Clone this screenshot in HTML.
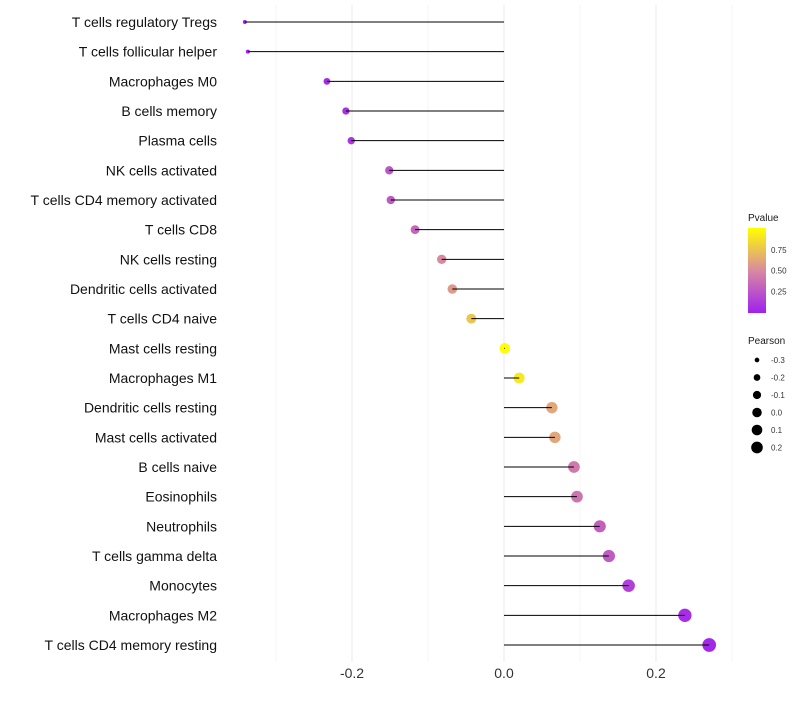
<!DOCTYPE html>
<html><head><meta charset="utf-8"><style>
body{margin:0;background:#fff;font-family:"Liberation Sans",sans-serif}
</style></head><body>
<svg id="chart" width="800" height="700" xmlns="http://www.w3.org/2000/svg" font-family="Liberation Sans, sans-serif">
<defs><linearGradient id="pg" x1="0" y1="1" x2="0" y2="0">
<stop offset="0" stop-color="#a020f0"/><stop offset="0.5" stop-color="#d88aa0"/><stop offset="1" stop-color="#ffff00"/></linearGradient></defs>
<g id="grid"></g>
<g id="marks"></g>
<g id="legend"></g>
</svg>
<script>
const categories=["T cells regulatory  Tregs","T cells follicular helper","Macrophages M0","B cells memory","Plasma cells","NK cells activated","T cells CD4 memory activated","T cells CD8","NK cells resting","Dendritic cells activated","T cells CD4 naive","Mast cells resting","Macrophages M1","Dendritic cells resting","Mast cells activated","B cells naive","Eosinophils","Neutrophils","T cells gamma delta","Monocytes","Macrophages M2","T cells CD4 memory resting"];
const pearson=[-0.341,-0.337,-0.233,-0.208,-0.201,-0.151,-0.149,-0.117,-0.082,-0.068,-0.043,0.001,0.020,0.063,0.067,0.092,0.096,0.126,0.138,0.164,0.238,0.270];
const pvalues=[0.01,0.02,0.05,0.08,0.1,0.25,0.27,0.33,0.5,0.57,0.75,0.99,0.9,0.62,0.62,0.42,0.4,0.3,0.28,0.15,0.06,0.03];
const xTicks=[-0.2,0.0,0.2];
const xMinor=[-0.3,-0.1,0.1,0.3];
const colorTicks=[0.25,0.5,0.75];
const sizeLegend=[-0.3,-0.2,-0.1,0.0,0.1,0.2];
const NS="http://www.w3.org/2000/svg";
const X=v=>504+v*760;
const Y=i=>22+i*(623/21);
const R=v=>Math.sqrt(4+70*Math.max(0,v+0.34));
function lerp(a,b,t){return a.map((x,k)=>Math.round(x+(b[k]-x)*t));}
function col(p){const s=[[160,32,240],[216,138,160],[255,255,0]];const c=p<0.5?lerp(s[0],s[1],p/0.5):lerp(s[1],s[2],(p-0.5)/0.5);return `rgb(${c})`;}
function mk(tag,at,parent){const e=document.createElementNS(NS,tag);for(const k in at)e.setAttribute(k,at[k]);parent.appendChild(e);return e;}
const g=document.getElementById('grid'),m=document.getElementById('marks'),L=document.getElementById('legend');
xMinor.forEach(v=>{const l=mk('line',{x1:X(v),x2:X(v),y1:5,y2:662,stroke:'#f4f4f4','stroke-width':1},g);

});
xTicks.forEach(v=>{const l=mk('line',{x1:X(v),x2:X(v),y1:5,y2:662,stroke:'#ebebeb','stroke-width':1},g);


const t=mk('text',{x:X(v),y:678,'text-anchor':'middle','font-size':14,fill:'#333'},g);t.textContent=v.toFixed(1);

});
categories.forEach((c,i)=>{const y=Y(i);
const t=mk('text',{x:217,y:y+5,'text-anchor':'end','font-size':14,fill:'#111'},m);t.textContent=c;


const d=mk('circle',{cx:X(pearson[i]),cy:y,r:R(pearson[i]),fill:col(pvalues[i])},m);


const l=mk('line',{x1:X(0),x2:X(pearson[i]),y1:y,y2:y,stroke:'#000','stroke-width':1},m);

});
let t=mk('text',{x:748,y:221,'font-size':10,fill:'#1a1a1a'},L);t.textContent='Pvalue';


const bar=mk('rect',{x:748,y:228,width:18,height:85,fill:'url(#pg)'},L);


colorTicks.forEach(p=>{const y=312-p*83;const tt=mk('text',{x:771,y:y+3,'font-size':8,fill:'#333'},L);tt.textContent=p.toFixed(2);

});
t=mk('text',{x:748,y:344,'font-size':10,fill:'#1a1a1a'},L);t.textContent='Pearson';


sizeLegend.forEach((v,k)=>{const y=360+k*17.5;
const c=mk('circle',{cx:757,cy:y,r:R(v)*0.9,fill:'#000'},L);


const tt=mk('text',{x:771,y:y+3,'font-size':8,fill:'#333'},L);tt.textContent=v.toFixed(1);

});
</script>
</body></html>
